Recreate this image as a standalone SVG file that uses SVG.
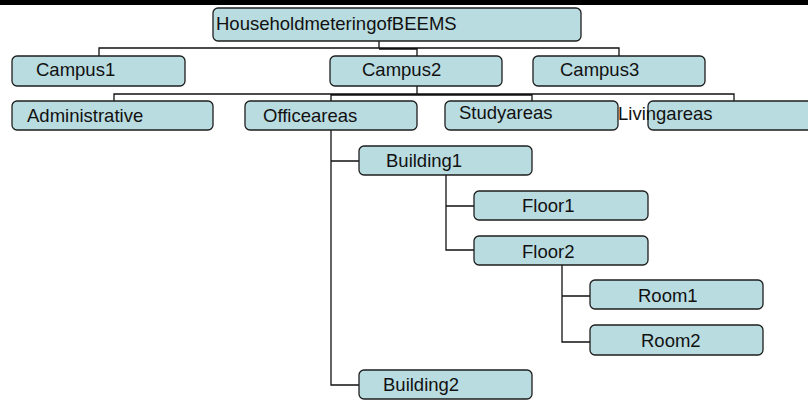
<svg xmlns="http://www.w3.org/2000/svg" width="808" height="402" viewBox="0 0 808 402">
  <style>
    .box { fill: #b9dce0; stroke: #1e1e1e; stroke-width: 1.3; }
    .lbl { font-family: "Liberation Sans", Arial, sans-serif; font-size: 18.5px; fill: #111; }
    .wire { fill: none; stroke: #111; stroke-width: 1.3; }
  </style>
  <rect width="808" height="402" fill="#fff"/>
  <!-- header rule -->
  <rect x="0" y="0" width="808" height="5" fill="#000"/>

  <!-- connectors -->
  <g id="connectors" class="wire">
    <path d="M379 41 V48 M99 56 V48 H619 V56 M379 49 H417 V56"/>
    <path d="M417 86 V94 M114 101 V94 H734 V101 M331 95 H532 V101 M331 94 V101"/>
    <path d="M331 130 V385 H359 M331 161 H359"/>
    <path d="M446 175 V250 H474 M446 206 H474"/>
    <path d="M562 265 V342 H590 M562 296 H590"/>
  </g>

  <g id="root">
    <rect class="box" x="213" y="8" width="368" height="33" rx="5"/>
    <text class="lbl" x="216" y="30">HouseholdmeteringofBEEMS</text>
  </g>
  <g id="campus1">
    <rect class="box" x="12" y="56" width="173" height="30" rx="5"/>
    <text class="lbl" x="36" y="76">Campus1</text>
  </g>
  <g id="campus2">
    <rect class="box" x="330" y="56" width="172" height="30" rx="5"/>
    <text class="lbl" x="362" y="76">Campus2</text>
  </g>
  <g id="campus3">
    <rect class="box" x="533" y="56" width="172" height="30" rx="5"/>
    <text class="lbl" x="560" y="76">Campus3</text>
  </g>
  <g id="administrative">
    <rect class="box" x="12" y="101" width="201" height="29" rx="5"/>
    <text class="lbl" x="27" y="122">Administrative</text>
  </g>
  <g id="officeareas">
    <rect class="box" x="245" y="101" width="172" height="29" rx="5"/>
    <text class="lbl" x="263" y="122">Officeareas</text>
  </g>
  <g id="studyareas">
    <rect class="box" x="445" y="101" width="173" height="29" rx="5"/>
    <text class="lbl" x="459" y="119">Studyareas</text>
  </g>
  <g id="livingareas">
    <rect class="box" x="648" y="101" width="172" height="29" rx="5"/>
    <text class="lbl" x="618" y="120">Livingareas</text>
  </g>
  <g id="building1">
    <rect class="box" x="359" y="146" width="173" height="29" rx="5"/>
    <text class="lbl" x="386" y="167">Building1</text>
  </g>
  <g id="floor1">
    <rect class="box" x="474" y="191" width="174" height="29" rx="5"/>
    <text class="lbl" x="522" y="212">Floor1</text>
  </g>
  <g id="floor2">
    <rect class="box" x="474" y="236" width="174" height="29" rx="5"/>
    <text class="lbl" x="522" y="258">Floor2</text>
  </g>
  <g id="room1">
    <rect class="box" x="590" y="280" width="173" height="29" rx="5"/>
    <text class="lbl" x="638" y="302">Room1</text>
  </g>
  <g id="room2">
    <rect class="box" x="590" y="325" width="173" height="30" rx="5"/>
    <text class="lbl" x="641" y="347">Room2</text>
  </g>
  <g id="building2">
    <rect class="box" x="359" y="370" width="173" height="29" rx="5"/>
    <text class="lbl" x="383" y="391">Building2</text>
  </g>
</svg>
